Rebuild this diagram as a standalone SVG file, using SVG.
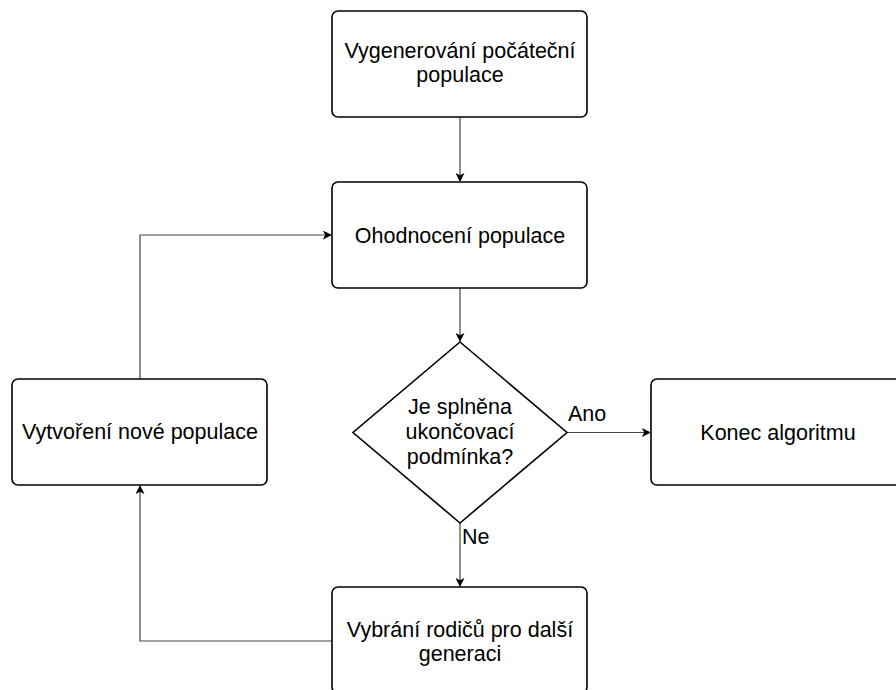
<svg xmlns="http://www.w3.org/2000/svg" width="896" height="690" viewBox="0 0 896 690">
<style>
.box{fill:#fff;stroke:#000;stroke-width:1.6}
.t{font-family:"Liberation Sans",Arial,sans-serif;font-size:21.5px;fill:#000;text-anchor:middle}
.lbl{font-family:"Liberation Sans",Arial,sans-serif;font-size:21.5px;fill:#000}
.c{fill:none;stroke:#444;stroke-width:1.2}
</style>
<defs>
<marker id="ah" viewBox="0 0 10 10" refX="9" refY="5" markerWidth="9" markerHeight="9" markerUnits="userSpaceOnUse" orient="auto">
<path d="M0,0 L10,5 L0,10 L2.5,5 Z" fill="#000"/>
</marker>
</defs>
<rect width="896" height="690" fill="#fff"/>
<g id="connectors">
<path class="c" d="M460,117 V181" marker-end="url(#ah)"/>
<path class="c" d="M460,288 V341" marker-end="url(#ah)"/>
<path class="c" d="M567,432.5 H650" marker-end="url(#ah)"/>
<path class="c" d="M460,523 V586" marker-end="url(#ah)"/>
<path class="c" d="M332,641 H140 V486" marker-end="url(#ah)"/>
<path class="c" d="M140,379 V235 H331" marker-end="url(#ah)"/>
<text class="lbl" x="568" y="421">Ano</text>
<text class="lbl" x="462" y="544">Ne</text>
</g>
<g id="n1">
<rect class="box" x="332" y="11" width="255" height="106" rx="6"/>
<text class="t" x="460" y="58">Vygenerování počáteční</text>
<text class="t" x="460" y="82">populace</text>
</g>
<g id="n2">
<rect class="box" x="332" y="182" width="255" height="106" rx="6"/>
<text class="t" x="460" y="243">Ohodnocení populace</text>
</g>
<g id="n3">
<path class="box" d="M460,342 L567,432.5 L460,523 L353,432.5 Z"/>
<text class="t" x="460" y="414">Je splněna</text>
<text class="t" x="460" y="439">ukončovací</text>
<text class="t" x="460" y="464">podmínka?</text>
</g>
<g id="n4">
<rect class="box" x="651" y="379" width="255" height="106" rx="6"/>
<text class="t" x="778" y="440">Konec algoritmu</text>
</g>
<g id="n5">
<rect class="box" x="12" y="379" width="255" height="106" rx="6"/>
<text class="t" x="140" y="439">Vytvoření nové populace</text>
</g>
<g id="n6">
<rect class="box" x="332" y="587" width="255" height="106" rx="6"/>
<text class="t" x="460" y="637">Vybrání rodičů pro další</text>
<text class="t" x="460" y="661">generaci</text>
</g>
</svg>
